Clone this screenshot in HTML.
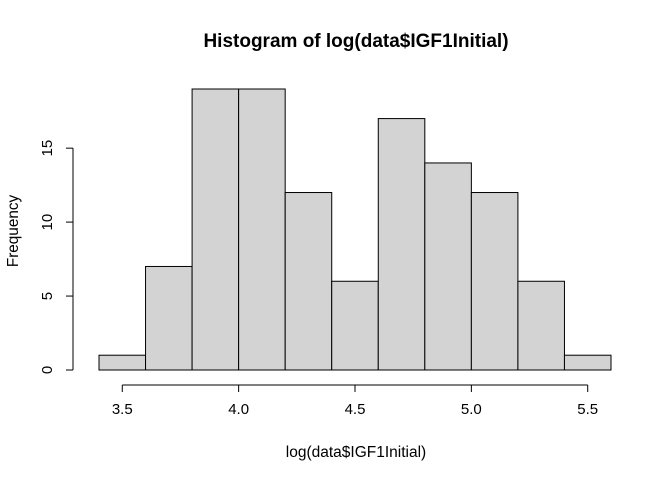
<!DOCTYPE html>
<html><head><meta charset="utf-8"><style>body{margin:0;background:#fff}svg{display:block;font-family:"Liberation Sans",Arial,sans-serif}</style></head>
<body>
<svg id="chart" width="672" height="480">
<text x="356" y="47" text-anchor="middle" font-size="19" font-weight="bold">Histogram of log(data$IGF1Initial)</text>
<text x="356" y="457" text-anchor="middle" font-size="15.5">log(data$IGF1Initial)</text>
<text transform="translate(18,231) rotate(-90)" text-anchor="middle" font-size="15.3">Frequency</text>
<g id="bars"></g><g id="xaxis"></g><g id="yaxis"></g>
</svg>
<script>
const binStarts=[3.4,3.6,3.8,4.0,4.2,4.4,4.6,4.8,5.0,5.2,5.4];
const binWidth=0.2;
const counts=[1,7,19,19,12,6,17,14,12,6,1];
const xTicks=[3.5,4.0,4.5,5.0,5.5];
const xTickLabels=["3.5","4.0","4.5","5.0","5.5"];
const yTicks=[0,5,10,15];
const NS="http://www.w3.org/2000/svg";
function sx(v){return 99+(v-3.4)*(512/2.2);}
function sy(v){return 370-v*(281/19);}
function mk(t,a,p){const e=document.createElementNS(NS,t);for(const k in a)e.setAttribute(k,a[k]);p.appendChild(e);return e;}
const bars=document.getElementById('bars');
counts.forEach((c,i)=>{
 const x0=sx(binStarts[i]),x1=sx(binStarts[i]+binWidth);
 const r=mk('rect',{x:x0,y:sy(c),width:x1-x0,height:sy(0)-sy(c),fill:'#d3d3d3',stroke:'#000','stroke-width':1},bars);
 
 
});
const xa=document.getElementById('xaxis');


mk('line',{x1:sx(xTicks[0]),x2:sx(xTicks[xTicks.length-1]),y1:385,y2:385,stroke:'#000'},xa);
xTicks.forEach((v,i)=>{
 mk('line',{x1:sx(v),x2:sx(v),y1:385,y2:392,stroke:'#000'},xa);
 const t=mk('text',{x:sx(v),y:414,'text-anchor':'middle','font-size':15},xa);
 t.textContent=xTickLabels[i];
 
 
});
const ya=document.getElementById('yaxis');


mk('line',{x1:73,x2:73,y1:sy(yTicks[0]),y2:sy(yTicks[yTicks.length-1]),stroke:'#000'},ya);
yTicks.forEach(v=>{
 mk('line',{x1:66,x2:73,y1:sy(v),y2:sy(v),stroke:'#000'},ya);
 const t=mk('text',{transform:`translate(52,${sy(v)}) rotate(-90)`,'text-anchor':'middle','font-size':15},ya);
 t.textContent=String(v);
 
 
});
</script>
</body></html>
